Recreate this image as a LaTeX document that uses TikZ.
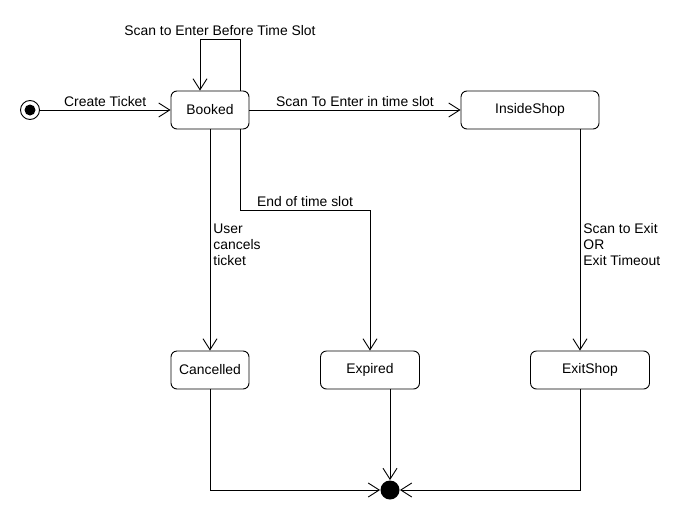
\documentclass[tikz,border=0pt]{standalone}
\usepackage{fontspec}
\setmainfont{Liberation Sans}
\usetikzlibrary{arrows.meta,positioning,calc}

\begin{document}
\begin{tikzpicture}[x=1pt, y=-1pt, line width=0.9pt,
  every node/.style={font=\fontsize{13.9}{16}\selectfont},
  state/.style={draw, rounded corners=6pt, minimum height=38pt, inner sep=0pt},
  initst/.style={draw, circle, minimum size=19pt, inner sep=0pt,
    path picture={\fill (path picture bounding box.center) circle (5.5pt);}},
  finalst/.style={fill, circle, minimum size=19pt, inner sep=0pt},
  trans/.style={-{Straight Barb[length=11pt,width=14pt]}},
  lbl/.style={inner sep=3pt, align=left}]
\useasboundingbox (0,0) rectangle (700,530);

% states
\node[initst] (init) at (30,110) {};
\node[state, minimum width=78pt] (booked) at (210,110) {Booked};
\node[state, minimum width=138pt] (inside) at (530,110) {InsideShop};
\node[state, minimum width=78pt] (cancelled) at (210,370) {Cancelled};
\node[state, minimum width=99pt] (expired) at (370,370) {Expired};
\node[state, minimum width=119pt] (exitshop) at (590,370) {ExitShop};
\node[finalst] (final) at (390,490) {};

% transitions
\draw[trans] (init) -- node[lbl, above] {Create Ticket} (booked);
\draw[trans] ([xshift=30]booked.north) -- ++(0,-51)
  -- node[lbl, above] {Scan to Enter Before Time Slot} ++(-40,0)
  -- ([xshift=-10]booked.north);
\draw[trans] (booked) -- node[lbl, above] {Scan To Enter in time slot} (inside);
\draw[trans] (booked) -- node[lbl, right, pos=0.52] {User\\cancels\\ticket} (cancelled);
\draw[trans] ([xshift=30]booked.south) -- ++(0,81)
  -| node[lbl, above, pos=0.25] {End of time slot} (expired.north);
\draw[trans] ([xshift=50]inside.south)
  -- node[lbl, right, pos=0.52] {Scan to Exit\\OR\\Exit Timeout} ([xshift=-10]exitshop.north);
\draw[trans] (cancelled) |- (final);
\draw[trans] (expired.south -| final) -- (final);
\draw[trans] ([xshift=-10]exitshop.south) |- (final);
\end{tikzpicture}
\end{document}
